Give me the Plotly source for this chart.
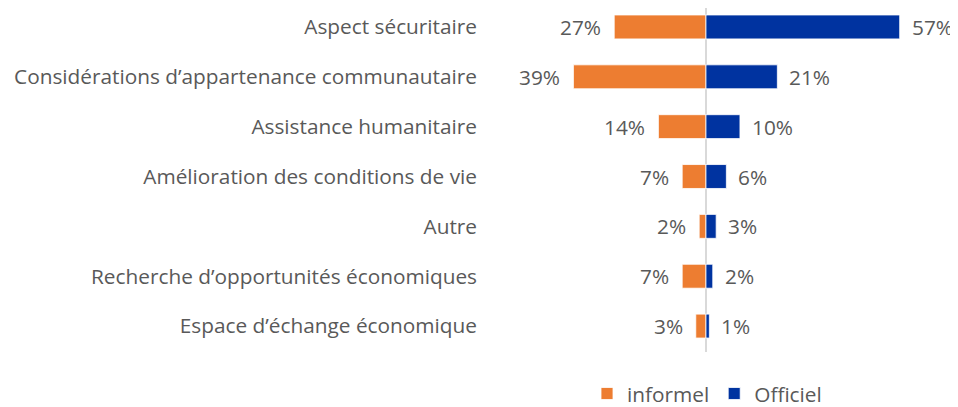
import plotly.graph_objects as go

categories = [
    "Aspect sécuritaire",
    "Considérations d’appartenance communautaire",
    "Assistance humanitaire",
    "Amélioration des conditions de vie",
    "Autre",
    "Recherche d’opportunités économiques",
    "Espace d’échange économique",
]
informel = [27, 39, 14, 7, 2, 7, 3]
officiel = [57, 21, 10, 6, 3, 2, 1]

ORANGE = "#ED7D31"
BLUE = "#0033A0"
TXT = "#595959"
FONT = "Open Sans"
FS = 20.8

fig = go.Figure()
fig.add_trace(go.Bar(
    y=categories, x=[-v for v in informel], orientation="h", name="informel",
    marker=dict(color=ORANGE, line=dict(color="white", width=0.8)),
    hoverinfo="skip",
))
fig.add_trace(go.Bar(
    y=categories, x=officiel, orientation="h", name="Officiel",
    marker=dict(color=BLUE, line=dict(color="white", width=0.8)),
    hoverinfo="skip",
))

for c, v in zip(categories, informel):
    fig.add_annotation(x=-v, y=c, text=f"{v}%", showarrow=False, xanchor="right",
                       xshift=-11, font=dict(size=FS, color=TXT, family=FONT))
for c, v in zip(categories, officiel):
    fig.add_annotation(x=v, y=c, text=f"{v}%", showarrow=False, xanchor="left",
                       xshift=10, font=dict(size=FS, color=TXT, family=FONT))

fig.update_layout(
    width=950, height=399,
    margin=dict(l=474, r=8, t=0, b=55, autoexpand=False),
    barmode="relative", bargap=0.52,
    plot_bgcolor="white", paper_bgcolor="white",
    font=dict(family=FONT, size=FS, color=TXT),
    showlegend=True,
    legend=dict(orientation="h", x=0.5 - 9 / 468, xanchor="center", y=-0.122, yanchor="middle",
                font=dict(size=FS, color=TXT, family=FONT), itemwidth=30,
                traceorder="normal"),
)
fig.update_xaxes(range=[-65.9, 71.8], showgrid=False, showticklabels=False,
                 zeroline=True, zerolinecolor="#D9D9D9", zerolinewidth=2, fixedrange=True)
fig.update_yaxes(range=[6.52, -0.38], showgrid=False, ticks="", ticklabelstandoff=4,
                 tickfont=dict(size=FS, color=TXT, family=FONT), fixedrange=True)

fig.write_html("out.html")
